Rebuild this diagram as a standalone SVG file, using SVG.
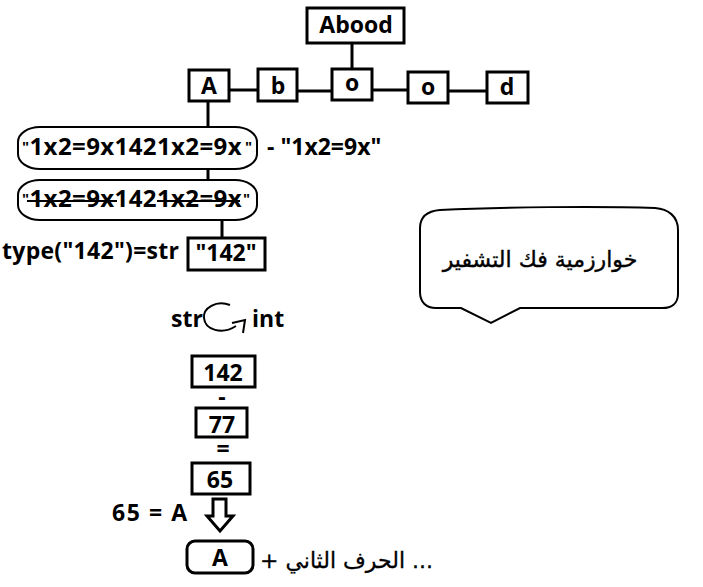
<svg xmlns="http://www.w3.org/2000/svg" width="703" height="587" viewBox="0 0 703 587">
<style>
.b{fill:#fff;stroke:#000;stroke-width:3}
.thin{fill:#fff;stroke:#000;stroke-width:2}
.t{font-family:"Open Sans","Liberation Sans",sans-serif;font-weight:700;font-size:23px;fill:#000}
.m{text-anchor:middle}
.ar{font-family:"DejaVu Sans","Noto Sans",sans-serif;font-size:22px;fill:#000}
.c{stroke:#000;stroke-width:3;fill:none}
</style>
<rect width="703" height="587" fill="#fff"/>
<g id="connectors">
<line class="c" x1="352" y1="43" x2="352" y2="68"/>
<line class="c" x1="229" y1="90" x2="258" y2="90"/>
<line class="c" x1="297" y1="91" x2="332" y2="91"/>
<line class="c" x1="372" y1="90" x2="408" y2="90"/>
<line class="c" x1="448" y1="91" x2="487" y2="91"/>
<line class="c" x1="208" y1="101" x2="208" y2="126"/>
<line class="c" x1="208" y1="169" x2="208" y2="179"/>
<line class="c" x1="222" y1="220" x2="222" y2="237"/>
</g>
<g id="node-abood"><rect class="b" x="307" y="8" width="97" height="35"/><text class="t m" x="356" y="33">Abood</text></g>
<g id="node-A"><rect class="b" x="189" y="70" width="40" height="31"/><text class="t m" x="209" y="94">A</text></g>
<g id="node-b"><rect class="b" x="258" y="69" width="39" height="32"/><text class="t m" x="278" y="94">b</text></g>
<g id="node-o1"><rect class="b" x="332" y="69" width="40" height="31"/><text class="t m" x="352" y="91">o</text></g>
<g id="node-o2"><rect class="b" x="408" y="72" width="40" height="31"/><text class="t m" x="428" y="95">o</text></g>
<g id="node-d"><rect class="b" x="487" y="72" width="41" height="31"/><text class="t m" x="507" y="95">d</text></g>
<g id="node-str1">
<rect class="thin" x="18" y="127" width="239" height="42" rx="22" ry="15"/>
<text class="t" x="22" y="155" font-size="24" letter-spacing="0.4"><tspan font-size="15" dy="-3">"</tspan><tspan dy="3" font-size="24">1x2=9x1421x2=9x</tspan><tspan font-size="15" dx="3" dy="-3">"</tspan></text>
</g>
<text class="t" x="267" y="155" font-size="24">- "1x2=9x"</text>
<g id="node-str2">
<rect class="thin" x="18" y="180" width="239" height="40" rx="22" ry="15"/>
<text class="t" x="22" y="207" font-size="24" letter-spacing="0.4"><tspan font-size="15" dy="-3">"</tspan><tspan dy="3" font-size="24">1x2=9x1421x2=9x</tspan><tspan font-size="15" dx="1" dy="-3">"</tspan></text>
<line x1="27" y1="201" x2="117" y2="201" stroke="#000" stroke-width="2"/>
<line x1="157" y1="201" x2="240" y2="201" stroke="#000" stroke-width="2"/>
</g>
<text class="t" x="2" y="259" font-size="24" textLength="177" lengthAdjust="spacing">type("142")=str</text>
<g id="node-142s"><rect class="b" x="188" y="238" width="77" height="32"/><text class="t m" x="226" y="261" font-size="24">"142"</text></g>
<g id="bubble">
<path class="thin" d="M420 228 C420 216 428 211 440 210 C500 207 600 206 655 208 C668 209 678 216 678 230 L678 294 C678 303 672 308 662 308 L520 308 L491 323 L461 308 L436 308 C426 308 420 302 420 292 Z"/>
<text class="ar" x="540" y="267" text-anchor="middle" direction="rtl" font-size="23.5" stroke="#000" stroke-width="0.4">خوارزمية فك التشفير</text>
</g>
<g id="conv">
<text class="t" x="171" y="327" font-size="21">str</text>
<path d="M230 305 C216 300 203 308 204 318 C205 330 222 335 236 326" fill="none" stroke="#000" stroke-width="2"/>
<path d="M232 323 L245 320 L243 333" fill="none" stroke="#000" stroke-width="2"/>
<text class="t" x="252" y="327" font-size="21">int</text>
</g>
<g id="node-142"><rect class="b" x="192" y="356" width="63" height="31"/><text class="t m" x="223" y="381" font-size="24">142</text></g>
<text class="t m" x="222" y="405" font-size="14">-</text>
<g id="node-77"><rect class="b" x="196" y="408" width="51" height="29"/><text class="t m" x="222" y="433" font-size="24">77</text></g>
<text class="t m" x="223" y="457" font-size="15">=</text>
<g id="node-65"><rect class="b" x="192" y="463" width="58" height="31"/><text class="t m" x="220" y="488" font-size="24">65</text></g>
<text class="t" x="112" y="521" font-size="22" textLength="75" lengthAdjust="spacing">65 = A</text>
<polygon points="213,499 226,499 226,516 233,516 220,531 207,516 213,516" fill="#fff" stroke="#000" stroke-width="3" stroke-linejoin="miter"/>
<g id="node-Afinal"><rect class="b" x="187" y="541" width="66" height="32" rx="8"/><text class="t m" x="220" y="566">A</text></g>
<text class="ar" x="433" y="568" direction="rtl" text-anchor="start" stroke="#000" stroke-width="0.3">... الحرف الثاني +</text>
</svg>
